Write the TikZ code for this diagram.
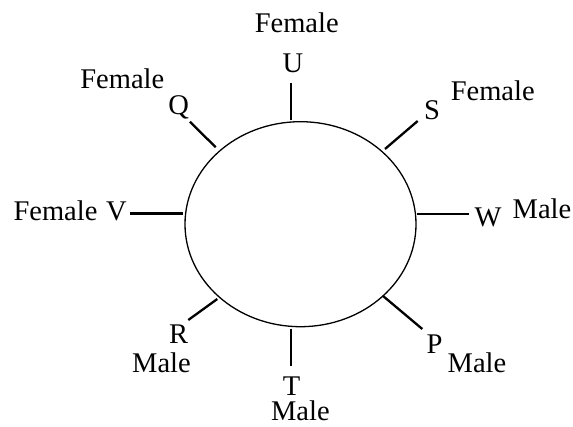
\documentclass[tikz,border=0pt]{standalone}
\usepackage{fontspec}
\setmainfont{Liberation Serif}
\usetikzlibrary{shapes.geometric}
\begin{document}
\begin{tikzpicture}[x=1pt,y=-1pt,
  lab/.style={font=\fontsize{28.5}{31}\selectfont, inner sep=0pt, anchor=base},
  tick/.style={line width=2.3pt},
  ring/.style={ellipse, draw, line width=1.3pt, minimum width=231pt,
               minimum height=205pt, inner sep=0pt, outer sep=0pt}]
\useasboundingbox (0,0) rectangle (573,427);

% the round table
\node[ring] (table) at (300.5,224.2) {};

% seat ticks: inner end on the table, outer end towards the name
\coordinate (Uin) at (291,120);   \coordinate (Uout) at (291,83);
\coordinate (Tin) at (291,329);   \coordinate (Tout) at (291,366);
\coordinate (Vin) at (183,213.5); \coordinate (Vout) at (130,213.5);
\coordinate (Win) at (417,213.7); \coordinate (Wout) at (469,213.7);
\coordinate (Qin) at (215.7,147.3); \coordinate (Qout) at (190,121.7);
\coordinate (Sin) at (385,149);   \coordinate (Sout) at (417.7,121);
\coordinate (Rin) at (217.3,299); \coordinate (Rout) at (188.3,320);
\coordinate (Pin) at (382.7,295.7); \coordinate (Pout) at (422.3,329);

\foreach \s in {U,T,V,W,Q,S,R,P}
  \draw[tick] (\s in) -- (\s out);

% names
\node[lab] (nU) at (293,72.7) {U};
\node[lab] (nQ) at (178.6,115) {Q};
\node[lab] (nS) at (432,120) {S};
\node[lab] (nV) at (116.3,220.7) {V};
\node[lab] (nW) at (488,226.7) {W};
\node[lab] (nR) at (178.6,344) {R};
\node[lab] (nT) at (291.6,395.7) {T};
\node[lab] (nP) at (434.6,353.3) {P};

% genders
\node[lab] (gU) at (296.7,32.3) {Female};
\node[lab] (gQ) at (122.3,88.3) {Female};
\node[lab] (gS) at (492.7,100.7) {Female};
\node[lab] (gV) at (55.5,220.7) {Female};
\node[lab] (gW) at (542,218.3) {Male};
\node[lab] (gR) at (161.5,372.3) {Male};
\node[lab] (gT) at (300.4,420.7) {Male};
\node[lab] (gP) at (477,372.3) {Male};
\end{tikzpicture}
\end{document}
